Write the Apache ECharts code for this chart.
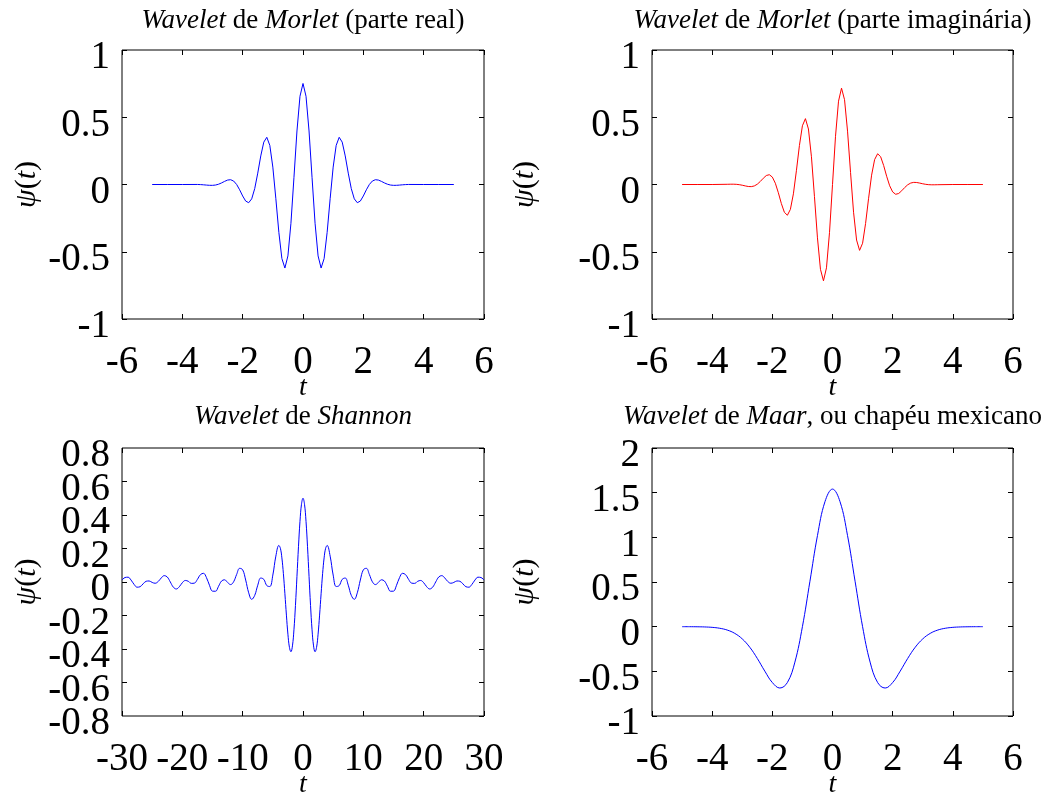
<!DOCTYPE html>
<html>
<head>
<meta charset="utf-8">
<title>Wavelets</title>
<script src="https://cdn.jsdelivr.net/npm/echarts@6/dist/echarts.min.js"></script>
<style>
  html, body { margin: 0; padding: 0; background: #fff; }
  #chart { width: 1044px; height: 794px; }
</style>
</head>
<body>
<div id="chart"></div>
<script>
// Morlet wavelet, sampled on t in [-5, 5]
const morletT = [-5, -4.5, -4, -3.5, -3.4, -3.3, -3.2, -3.1, -3.0, -2.9, -2.8, -2.7, -2.6, -2.5, -2.4, -2.3, -2.2, -2.1, -2.0,
  -1.9, -1.8, -1.7, -1.6, -1.5, -1.4, -1.3, -1.2, -1.1, -1.0, -0.9, -0.8, -0.7, -0.6, -0.5, -0.4, -0.3, -0.2, -0.1, 0,
  0.1, 0.2, 0.3, 0.4, 0.5, 0.6, 0.7, 0.8, 0.9, 1.0, 1.1, 1.2, 1.3, 1.4, 1.5, 1.6, 1.7, 1.8, 1.9, 2.0,
  2.1, 2.2, 2.3, 2.4, 2.5, 2.6, 2.7, 2.8, 2.9, 3.0, 3.1, 3.2, 3.3, 3.4, 3.5, 4, 4.5, 5];

const morletReal = [0, 0, 0, 0.0003, -0.0006, -0.0023, -0.0043, -0.0060, -0.0063, -0.0040, 0.0020, 0.0117, 0.0232, 0.0329, 0.0356, 0.0258, 0.0003, -0.0394, -0.0853,
  -0.1232, -0.1354, -0.1066, -0.0304, 0.0845, 0.2125, 0.3151, 0.3510, 0.2907, 0.1292, -0.1056, -0.3565, -0.5505, -0.6211, -0.5310, -0.2885, 0.0508, 0.3978, 0.6559, 0.7511,
  0.6559, 0.3978, 0.0508, -0.2885, -0.5310, -0.6211, -0.5505, -0.3565, -0.1056, 0.1292, 0.2907, 0.3510, 0.3151, 0.2125, 0.0845, -0.0304, -0.1066, -0.1354, -0.1232, -0.0853,
  -0.0394, 0.0003, 0.0258, 0.0356, 0.0329, 0.0232, 0.0117, 0.0020, -0.0040, -0.0063, -0.0060, -0.0043, -0.0023, -0.0006, 0.0003, 0, 0, 0];

const morletImag = [0, 0, 0, 0.0016, 0.0022, 0.0023, 0.0013, -0.0012, -0.0054, -0.0105, -0.0148, -0.0158, -0.0107, 0.0022, 0.0226, 0.0467, 0.0668, 0.0728, 0.0553,
  0.0093, -0.0613, -0.1414, -0.2066, -0.2287, -0.1852, -0.0694, 0.1022, 0.2894, 0.4368, 0.4897, 0.4128, 0.2062, -0.0885, -0.3967, -0.6305, -0.7163, -0.6195, -0.3583, 0,
  0.3583, 0.6195, 0.7163, 0.6305, 0.3967, 0.0885, -0.2062, -0.4128, -0.4897, -0.4368, -0.2894, -0.1022, 0.0694, 0.1852, 0.2287, 0.2066, 0.1414, 0.0613, -0.0093, -0.0553,
  -0.0728, -0.0668, -0.0467, -0.0226, -0.0022, 0.0107, 0.0158, 0.0148, 0.0105, 0.0054, 0.0012, -0.0013, -0.0023, -0.0022, -0.0016, 0, 0, 0];

// Shannon wavelet, sampled on t in [-30, 30]
const shannonT = [-30, -29.5, -29, -28.5, -28, -27.5, -27, -26.5, -26, -25.5, -25, -24.5, -24, -23.5, -23, -22.5, -22, -21.5, -21, -20.5,
  -20, -19.5, -19, -18.5, -18, -17.5, -17, -16.5, -16, -15.5, -15, -14.5, -14, -13.5, -13, -12.5, -12, -11.5, -11, -10.5,
  -10, -9.5, -9, -8.5, -8, -7.5, -7, -6.5, -6, -5.5, -5, -4.5, -4, -3.75, -3.5, -3.25, -3, -2.75, -2.5, -2.25,
  -2, -1.75, -1.5, -1.25, -1, -0.75, -0.5, -0.25, 0, 0.25, 0.5, 0.75, 1, 1.25, 1.5, 1.75,
  2, 2.25, 2.5, 2.75, 3, 3.25, 3.5, 3.75, 4, 4.5, 5, 5.5, 6, 6.5, 7, 7.5, 8, 8.5, 9, 9.5,
  10, 10.5, 11, 11.5, 12, 12.5, 13, 13.5, 14, 14.5, 15, 15.5, 16, 16.5, 17, 17.5, 18, 18.5, 19, 19.5,
  20, 20.5, 21, 21.5, 22, 22.5, 23, 23.5, 24, 24.5, 25, 25.5, 26, 26.5, 27, 27.5, 28, 28.5, 29, 29.5, 30];

const shannonPsi = [0.0114, 0.0267, 0.0286, 0.0116, -0.0142, -0.0309, -0.0281, -0.0110, 0.0043, 0.0061, -0.0026, -0.0074, 0.0029, 0.0239, 0.0380, 0.0299, 0.0006, -0.0303, -0.0417, -0.0282,
  -0.0042, 0.0092, 0.0039, -0.0082, -0.0067, 0.0158, 0.0438, 0.0519, 0.0262, -0.0196, -0.0546, -0.0551, -0.0257, 0.0057, 0.0132, -0.0026, -0.0154, 0.0013, 0.0451, 0.0817,
  0.0728, 0.0118, -0.0646, -0.1035, -0.0798, -0.0192, 0.0238, 0.0158, -0.0214, -0.0268, 0.0415, 0.1544, 0.2183, 0.2013, 0.1440, 0.0497, -0.0701, -0.1977, -0.3115, -0.3901,
  -0.4165, -0.3814, -0.2855, -0.1402, 0.0339, 0.2106, 0.3620, 0.4641, 0.5, 0.4641, 0.3620, 0.2106, 0.0339, -0.1402, -0.2855, -0.3814,
  -0.4165, -0.3901, -0.3115, -0.1977, -0.0701, 0.0497, 0.1440, 0.2013, 0.2183, 0.1544, 0.0415, -0.0268, -0.0214, 0.0158, 0.0238, -0.0192, -0.0798, -0.1035, -0.0646, 0.0118,
  0.0728, 0.0817, 0.0451, 0.0013, -0.0154, -0.0026, 0.0132, 0.0057, -0.0257, -0.0551, -0.0546, -0.0196, 0.0262, 0.0519, 0.0438, 0.0158, -0.0067, -0.0082, 0.0039, 0.0092,
  -0.0042, -0.0282, -0.0417, -0.0303, 0.0006, 0.0299, 0.0380, 0.0239, 0.0029, -0.0074, -0.0026, 0.0061, 0.0043, -0.0110, -0.0281, -0.0309, -0.0142, 0.0116, 0.0286, 0.0267, 0.0114];

// Marr ("Mexican hat") wavelet, sampled on t in [-5, 5]
const maarT = [-5, -4.75, -4.5, -4.25, -4, -3.75, -3.5, -3.25, -3, -2.75, -2.5, -2.25, -2, -1.75, -1.5, -1.25, -1, -0.75, -0.5, -0.25,
  0, 0.25, 0.5, 0.75, 1, 1.25, 1.5, 1.75, 2, 2.25, 2.5, 2.75, 3, 3.25, 3.5, 3.75, 4, 4.25, 4.5, 4.75, 5];

const maarPsi = [-0.0001, -0.0004, -0.0012, -0.0031, -0.0077, -0.0178, -0.0379, -0.0749, -0.1369, -0.2303, -0.3553, -0.4978, -0.6253, -0.6869, -0.6250, -0.3966, 0, 0.5086, 1.0193, 1.3993,
  1.54, 1.3993, 1.0193, 0.5086, 0, -0.3966, -0.6250, -0.6869, -0.6253, -0.4978, -0.3553, -0.2303, -0.1369, -0.0749, -0.0379, -0.0178, -0.0077, -0.0031, -0.0012, -0.0004, -0.0001];

// Tick values of each axis
const tTicks = [-6, -4, -2, 0, 2, 4, 6];
const shannonTTicks = [-30, -20, -10, 0, 10, 20, 30];
const morletPsiTicks = [-1, -0.5, 0, 0.5, 1];
const shannonPsiTicks = [-0.8, -0.6, -0.4, -0.2, 0, 0.2, 0.4, 0.6, 0.8];
const maarPsiTicks = [-1, -0.5, 0, 0.5, 1, 1.5, 2];

const SERIF = "'Liberation Serif', 'Times New Roman', serif";

const panels = [
  { grid: { left: 122, top: 50, width: 362, height: 269 }, xt: tTicks, yt: morletPsiTicks, yNameGap: 80,
    title: '{i|Wavelet} de {i|Morlet} (parte real)', t: morletT, v: morletReal, color: '#0000ff', smooth: false },
  { grid: { left: 652, top: 50, width: 361, height: 269 }, xt: tTicks, yt: morletPsiTicks, yNameGap: 112,
    title: '{i|Wavelet} de {i|Morlet} (parte imaginária)', t: morletT, v: morletImag, color: '#ff0000', smooth: false },
  { grid: { left: 122, top: 448, width: 362, height: 268 }, xt: shannonTTicks, yt: shannonPsiTicks, yNameGap: 80,
    title: '{i|Wavelet} de {i|Shannon}', t: shannonT, v: shannonPsi, color: '#0000ff', smooth: 0.4, denseY: true },
  { grid: { left: 652, top: 448, width: 361, height: 268 }, xt: tTicks, yt: maarPsiTicks, yNameGap: 112,
    title: '{i|Wavelet} de {i|Maar}, ou chapéu mexicano', t: maarT, v: maarPsi, color: '#0000ff', smooth: 0.4 }
];

const grids = [], xAxes = [], yAxes = [], extraYAxes = [], series = [], titles = [];

function range(ticks) {
  return { min: ticks[0], max: ticks[ticks.length - 1], interval: ticks[1] - ticks[0] };
}
// tick labels such as 0.6 or -0.2, without floating point noise
function tickLabel(v) {
  return String(parseFloat(v.toFixed(2)));
}

const tickStyle = { show: true, inside: true, length: 5, lineStyle: { color: '#000', width: 1 } };
const noLine = { show: false, onZero: false };
// y labels sit a little below their ticks: top-aligned box with a short line height
const yLabelStyle = { show: true, margin: 12, color: '#000', fontFamily: SERIF, fontSize: 39,
  verticalAlign: 'top', lineHeight: 16, hideOverlap: false, formatter: tickLabel };

panels.forEach((p, k) => {
  grids.push(Object.assign({ show: true, borderColor: '#000', borderWidth: 1, backgroundColor: 'transparent',
    containLabel: false, outerBoundsMode: 'none' }, p.grid));
  const xr = range(p.xt), yr = range(p.yt);
  // bottom axis with labels, top axis with ticks only
  xAxes.push({
    type: 'value', gridIndex: k, position: 'bottom', ...xr,
    axisLine: noLine, axisTick: tickStyle, splitLine: { show: false },
    axisLabel: { show: true, margin: 24, color: '#000', fontFamily: SERIF, fontSize: 39,
      showMinLabel: true, showMaxLabel: true, hideOverlap: false, formatter: tickLabel },
    name: 't', nameLocation: 'middle', nameGap: 55, nameMoveOverlap: false,
    nameTextStyle: { color: '#000', fontFamily: SERIF, fontStyle: 'italic', fontSize: 28 }
  });
  xAxes.push({
    type: 'value', gridIndex: k, position: 'top', ...xr,
    axisLine: noLine, axisTick: tickStyle, splitLine: { show: false }, axisLabel: { show: false }
  });
  yAxes.push({
    type: 'value', gridIndex: k, position: 'left', ...yr,
    axisLine: noLine, axisTick: tickStyle, splitLine: { show: false },
    // on the densely labelled axis the end labels come from a separate axis below
    axisLabel: Object.assign({ showMinLabel: !p.denseY, showMaxLabel: !p.denseY }, yLabelStyle),
    name: '{i|ψ}({i|t})', nameLocation: 'middle', nameGap: p.yNameGap, nameMoveOverlap: false,
    nameTextStyle: { color: '#000', fontFamily: SERIF, fontSize: 30,
      rich: { i: { fontFamily: SERIF, fontStyle: 'italic', fontSize: 30, color: '#000' } } }
  });
  yAxes.push({
    type: 'value', gridIndex: k, position: 'right', ...yr,
    axisLine: noLine, axisTick: tickStyle, splitLine: { show: false }, axisLabel: { show: false }
  });
  if (p.denseY) {
    // end labels (min and max) of the densely labelled axis
    extraYAxes.push({
      type: 'value', gridIndex: k, position: 'left', min: yr.min, max: yr.max, interval: yr.max - yr.min,
      axisLine: noLine, axisTick: { show: false }, splitLine: { show: false },
      axisLabel: Object.assign({ showMinLabel: true, showMaxLabel: true }, yLabelStyle)
    });
  }
  series.push({
    type: 'line', xAxisIndex: 2 * k, yAxisIndex: 2 * k,
    data: p.t.map((t, i) => [t, p.v[i]]),
    showSymbol: false, smooth: p.smooth, silent: true,
    lineStyle: { color: p.color, width: 1 }, itemStyle: { color: p.color }
  });
  titles.push({
    text: p.title, left: p.grid.left + p.grid.width / 2, top: k < 2 ? 7 : 403, textAlign: 'center', padding: 0,
    textStyle: { color: '#000', fontFamily: SERIF, fontSize: 27, fontWeight: 'normal',
      rich: { i: { fontFamily: SERIF, fontStyle: 'italic', fontSize: 27, color: '#000' } } }
  });
});

const chart = echarts.init(document.getElementById('chart'), null, { renderer: 'canvas' });
chart.setOption({
  animation: false,
  backgroundColor: '#fff',
  title: titles,
  grid: grids,
  xAxis: xAxes,
  yAxis: yAxes.concat(extraYAxes),
  series: series
});
</script>
</body>
</html>
